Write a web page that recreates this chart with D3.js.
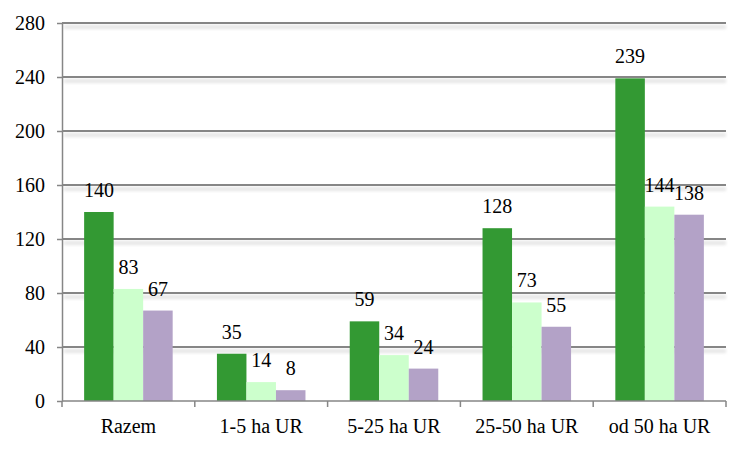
<!DOCTYPE html>
<html><head><meta charset="utf-8">
<script src="https://cdn.jsdelivr.net/npm/d3@7/dist/d3.min.js"></script>
<style>body{margin:0;background:#fff}svg{display:block}</style>
</head><body><div id="chart"></div>
<script>
const categories = ["Razem", "1-5 ha UR", "5-25 ha UR", "25-50 ha UR", "od 50 ha UR"];
const series1 = [140, 35, 59, 128, 239];
const series2 = [83, 14, 34, 73, 144];
const series3 = [67, 8, 24, 55, 138];
const yTicks = [0, 40, 80, 120, 160, 200, 240, 280];
const seriesColors = ["#339933", "#CCFFCC", "#B3A2C7"];

const W = 750, H = 450;
const m = {left: 62, right: 24, top: 23, bottom: 49};
const FONT = "Liberation Serif";
const svg = d3.select("#chart").append("svg").attr("width", W).attr("height", H);

const x = d3.scaleBand().domain(categories).range([m.left, W - m.right]).paddingInner(1/3).paddingOuter(1/6);
const xOuter = d3.scaleBand().domain(categories).range([m.left, W - m.right]).padding(0);
const y = d3.scaleLinear().domain([0, 280]).range([H - m.bottom, m.top]);
const sub = d3.scaleBand().domain([0,1,2]).range([0, x.bandwidth()]);

const defs = svg.append("defs");
defs.append("filter").attr("id","blur").attr("x","-5%").attr("y","-200%").attr("width","110%").attr("height","500%")
  .append("feGaussianBlur").attr("stdDeviation", 1.5);

// gridline shadows
svg.append("g").attr("filter","url(#blur)").selectAll("line").data(yTicks.filter(d=>d>0)).join("line")
  .attr("x1", m.left+2).attr("x2", W - m.right).attr("y1", d=>y(d)+4).attr("y2", d=>y(d)+4)
  .attr("stroke", "#e6e6e6").attr("stroke-width", 4);

// gridlines
svg.append("g").selectAll("line").data(yTicks.filter(d=>d>0)).join("line")
  .attr("x1", m.left).attr("x2", W - m.right).attr("y1", d=>y(d)).attr("y2", d=>y(d))
  .attr("stroke", "#868686").attr("stroke-width", 2);

function styleText(sel){ sel.style("font-family", FONT).style("font-size","20px").style("fill","#000"); }

// bars
const all = [series1, series2, series3];
all.forEach((s, si) => {
  svg.append("g").selectAll("rect").data(s).join("rect")
    .attr("x", (d,i)=>x(categories[i]) + sub(si))
    .attr("width", sub.bandwidth())
    .attr("y", d=>y(d)).attr("height", d=>y(0)-y(d))
    .attr("fill", seriesColors[si]);
  svg.append("g").selectAll("text").data(s).join("text")
    .attr("x", (d,i)=>x(categories[i]) + sub(si) + sub.bandwidth()/2)
    .attr("y", d=>y(d) - 15)
    .attr("text-anchor","middle")
    .text(d=>d).call(styleText);
});

// y axis
const yAxis = d3.axisLeft(y).tickValues(yTicks).tickSize(5).tickPadding(12).tickSizeOuter(0);
const gy = svg.append("g").attr("transform", `translate(${m.left},0)`).call(yAxis);
gy.select(".domain").attr("stroke","#868686").attr("stroke-width",1.5);
gy.selectAll(".tick line").attr("stroke","#868686").attr("stroke-width",1.5);
gy.selectAll(".tick text").call(styleText);

// x axis
const gx = svg.append("g").attr("transform", `translate(0,${y(0)})`);
gx.append("line").attr("x1", m.left).attr("x2", W - m.right).attr("stroke","#868686").attr("stroke-width",1.5);
const bounds = categories.map(c=>xOuter(c)).concat([W - m.right]);
gx.selectAll("line.t").data(bounds).join("line").attr("class","t")
  .attr("x1", d=>d).attr("x2", d=>d).attr("y1", 0).attr("y2", 6)
  .attr("stroke","#868686").attr("stroke-width",1.5);
gx.selectAll("text").data(categories).join("text")
  .attr("x", d=>xOuter(d) + xOuter.bandwidth()/2).attr("y", 32)
  .attr("text-anchor","middle")
  .text(d=>d).call(styleText);
</script></body></html>
